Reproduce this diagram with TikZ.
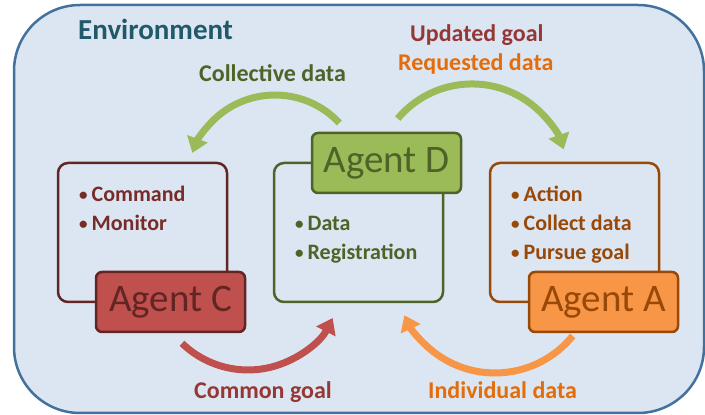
\documentclass[tikz,border=0pt]{standalone}
\usepackage{fontspec}
\setmainfont{Carlito}
\usepackage{tikz}
\usetikzlibrary{positioning,arrows.meta}

\definecolor{envFill}{HTML}{DCE6F2}
\definecolor{envLine}{HTML}{41719C}
\definecolor{envText}{HTML}{215968}
\definecolor{cFill}{HTML}{C0504D}
\definecolor{cLine}{HTML}{632523}
\definecolor{cText}{HTML}{772C2A}
\definecolor{dFill}{HTML}{9BBB59}
\definecolor{dLine}{HTML}{4F6228}
\definecolor{aFill}{HTML}{F79646}
\definecolor{aLine}{HTML}{984807}
\definecolor{goalText}{HTML}{953735}
\definecolor{dataText}{HTML}{E46C0A}

\newcommand{\itembullet}{\raisebox{1.8pt}{\fontsize{17}{17}\selectfont •}\hspace{4pt}}

\tikzstyle{envbox}=[draw=envLine, fill=envFill, line width=2.5pt, rounded corners=66pt]
\tikzstyle{task}=[rectangle, draw, line width=2.5pt, rounded corners=10pt, minimum width=169pt, minimum height=139pt, inner sep=0pt, outer sep=0pt]
\tikzstyle{agent}=[rectangle, draw, line width=2.5pt, rounded corners=6pt, minimum width=149pt, minimum height=60pt, inner sep=0pt, font=\fontsize{39}{39}\selectfont]
\tikzstyle{item}=[anchor=base west, inner sep=0pt, font=\bfseries\fontsize{22}{22}\selectfont]
\tikzstyle{flowlabel}=[anchor=base west, inner sep=0pt, font=\bfseries\fontsize{24}{24}\selectfont]
\tikzstyle{flow}=[line width=7pt, -{Triangle[width=21pt,length=15pt]}]

\begin{document}
\begin{tikzpicture}[x=1pt,y=1pt]
        \useasboundingbox (0,0) rectangle (705,415);
        \draw[envbox] (14,2) rectangle (704,410);
        \node (env) [anchor=base west, inner sep=0pt, text=envText, font=\bfseries\fontsize{29}{29}\selectfont] at (78,375) {Environment};

        \node (cTask)[task, draw=cLine, anchor=south west] at (58,113) {};
        \node (dTask)[task, draw=dLine, right=47pt of cTask] {};
        \node (aTask)[task, draw=aLine, right=47pt of dTask] {};

        \node (cAgent)[agent, fill=cFill, draw=cLine, text=cLine] at ([xshift=28pt]cTask.south) {Agent C};
        \node (dAgent)[agent, fill=dFill, draw=dLine, text=dLine] at ([xshift=28pt]dTask.north) {Agent D};
        \node (aAgent)[agent, fill=aFill, draw=aLine, text=aLine] at ([xshift=29pt]aTask.south) {Agent A};

        \foreach \t [count=\i] in {Command,Monitor}{
            \node (cItem\i)[item, text=cText] at (79,242-29*\i) {\itembullet\t};
        };
        \foreach \t [count=\i] in {Data,Registration}{
            \node (dItem\i)[item, text=dLine] at (295,213-29*\i) {\itembullet\t};
        };
        \foreach \t [count=\i] in {Action,Collect data,Pursue goal}{
            \node (aItem\i)[item, text=aLine] at (511,242-29*\i) {\itembullet\t};
        };

        % flows between the agents
        \coordinate (collStart) at (339.4,292);
        \coordinate (updStart) at (397.7,296.4);
        \coordinate (goalStart) at (182,71.7);
        \coordinate (indStart) at (572.7,79.1);

        \draw[flow, dFill] (collStart) arc[start angle=43, end angle=160, radius=88];
        \draw[flow, dFill] (updStart) arc[start angle=140, end angle=19, radius=97];
        \draw[flow, cFill] (goalStart) arc[start angle=226, end angle=333, radius=95];
        \draw[flow, aFill] (indStart) arc[start angle=321, end angle=205, radius=100];

        \node (collLabel)[flowlabel, text=dLine] at (199,333) {Collective data};
        \node (updLabel)[flowlabel, text=goalText] at (410,373) {Updated goal};
        \node (reqLabel)[flowlabel, text=dataText] at (398,344) {Requested data};
        \node (goalLabel)[flowlabel, text=goalText] at (194,16) {Common goal};
        \node (indLabel)[flowlabel, text=dataText] at (428,16) {Individual data};

    \end{tikzpicture}
\end{document}
